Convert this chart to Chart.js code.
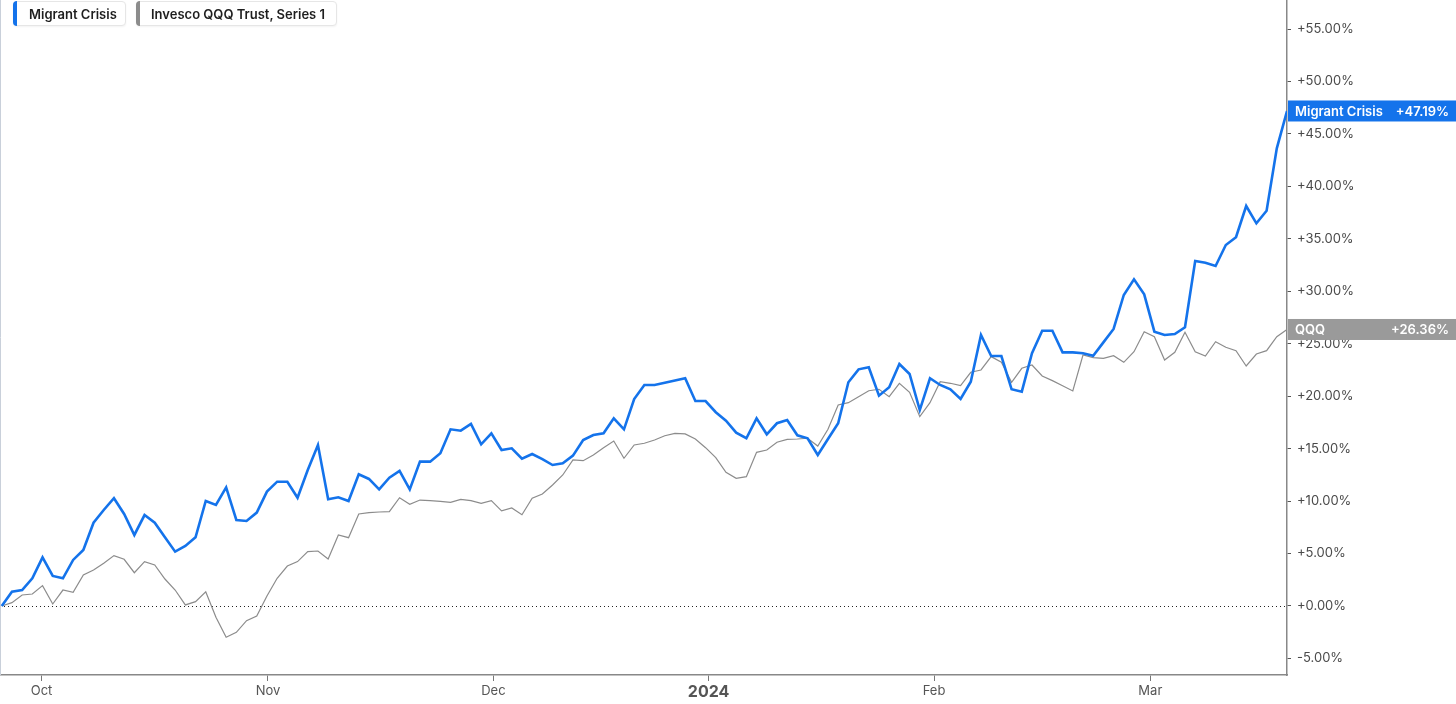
<!DOCTYPE html>
<html>
<head>
<meta charset="utf-8">
<title>Migrant Crisis vs QQQ</title>
<script src="https://cdn.jsdelivr.net/npm/chart.js@4.4.1/dist/chart.umd.min.js"></script>
<style>
  html, body { margin: 0; padding: 0; background: #fff; }
  #wrap { position: relative; width: 1456px; height: 704px; }
  .legend-item {
    position: absolute; top: 1px; height: 25px; box-sizing: border-box;
    border: 1px solid #e6e6e6; border-radius: 4px; background: #fff;
    font: 600 13px Inter, "Noto Sans", sans-serif; color: #1e1e1e;
    line-height: 25px; box-shadow: 0 1px 2px rgba(0,0,0,0.05);
  }
  .legend-item .bar {
    position: absolute; left: -1px; top: -1px; bottom: -1px; width: 4px;
    border-radius: 4px 0 0 4px;
  }
</style>
</head>
<body>
<div id="wrap">
  <canvas id="chart" width="1456" height="704"></canvas>
  <div class="legend-item" style="left:13px;width:113px;padding-left:15px;">
    <span class="bar" style="background:#1473eb"></span>Migrant Crisis
  </div>
  <div class="legend-item" style="left:136px;width:201px;padding-left:14px;">
    <span class="bar" style="background:#8c8c8c"></span>Invesco QQQ Trust, Series 1
  </div>
</div>
<script>
// % change since start, one value per trading day
const migrantCrisis = [
  0, 1.36, 1.52, 2.64, 4.64, 2.86, 2.64, 4.39, 5.34, 7.94,
  9.15, 10.27, 8.77, 6.77, 8.67, 7.94, 6.55, 5.18, 5.72, 6.55,
  10.01, 9.63, 11.31, 8.20, 8.10, 8.90, 10.90, 11.85, 11.85, 10.32,
  12.96, 15.35, 10.17, 10.36, 10.01, 12.55, 12.11, 11.12, 12.23, 12.87,
  11.12, 13.76, 13.76, 14.56, 16.84, 16.71, 17.35, 15.41, 16.46, 14.87,
  15.03, 14.04, 14.49, 14.01, 13.44, 13.60, 14.33, 15.82, 16.30, 16.46,
  17.89, 16.84, 19.73, 21.07, 21.07, 21.28, 21.50, 21.71, 19.54, 19.54,
  18.47, 17.67, 16.52, 15.99, 17.89, 16.37, 17.42, 17.73, 16.27, 15.99,
  14.39, 15.92, 17.42, 21.33, 22.56, 22.75, 20.05, 20.85, 23.07, 22.12,
  18.68, 21.71, 21.07, 20.66, 19.73, 21.38, 25.83, 23.83, 23.83, 20.66,
  20.43, 24.09, 26.24, 26.24, 24.18, 24.18, 24.09, 23.86, 25.13, 26.41,
  29.65, 31.14, 29.71, 26.15, 25.83, 25.93, 26.57, 32.89, 32.73, 32.41,
  34.41, 35.15, 38.13, 36.48, 37.68, 43.63, 47.19
];

const qqq = [
  0, 0.32, 1.05, 1.14, 1.94, 0.19, 1.52, 1.30, 2.96, 3.43,
  4.07, 4.80, 4.45, 3.17, 4.23, 3.91, 2.57, 1.52, 0.10, 0.41,
  1.36, -1.08, -2.98, -2.51, -1.40, -0.95, 0.95, 2.64, 3.81, 4.23,
  5.18, 5.24, 4.48, 6.77, 6.51, 8.77, 8.90, 8.96, 8.99, 10.32,
  9.69, 10.10, 10.04, 9.98, 9.88, 10.17, 10.04, 9.79, 10.04, 9.06,
  9.34, 8.70, 10.27, 10.68, 11.53, 12.49, 13.92, 13.85, 14.39, 15.09,
  15.73, 14.08, 15.35, 15.51, 15.82, 16.23, 16.46, 16.40, 15.92, 15.09,
  14.14, 12.75, 12.17, 12.33, 14.65, 14.87, 15.61, 15.89, 15.92, 15.99,
  15.25, 16.84, 19.16, 19.38, 19.95, 20.52, 20.66, 19.95, 21.23, 20.37,
  18.05, 19.38, 21.38, 21.23, 21.00, 22.28, 22.50, 23.77, 23.23, 21.33,
  22.66, 22.97, 21.93, 21.48, 21.00, 20.50, 23.93, 23.67, 23.61, 23.86,
  23.23, 24.24, 26.15, 25.67, 23.45, 24.18, 26.09, 24.24, 23.83, 25.19,
  24.66, 24.34, 22.88, 24.02, 24.34, 25.67, 26.36
];

const seriesNames = ["Migrant Crisis", "Invesco QQQ Trust, Series 1"];
const tagNames = ["Migrant Crisis", "QQQ"];
const seriesColors = ["#1473eb", "#8c8c8c"];
const tagColors = ["#1473eb", "#9a9a9a"];

// month ticks sit at these (fractional) trading-day positions
const xTickPos = [3.9, 26.1, 48.2, 69.3, 91.4, 112.6];
const xTickLabels = ["Oct", "Nov", "Dec", "2024", "Feb", "Mar"];
const yTicks = [-5, 0, 5, 10, 15, 20, 25, 30, 35, 40, 45, 50, 55];

const FONT = 'Inter, "Noto Sans", sans-serif';

function pct(v) {
  return (v >= 0 ? "+" : "") + v.toFixed(2) + "%";
}

function toPoints(arr) {
  return arr.map((v, i) => ({ x: i, y: v }));
}

// dotted zero line + last-value tags on the right axis
const overlays = {
  id: "overlays",
  beforeDatasetsDraw(chart) {
    const { ctx, chartArea, scales } = chart;
    const y0 = Math.round(scales.y.getPixelForValue(0)) + 0.5;
    ctx.save();
    ctx.strokeStyle = "#222";
    ctx.lineWidth = 1;
    ctx.setLineDash([1, 3]);
    ctx.beginPath();
    ctx.moveTo(chartArea.left, y0);
    ctx.lineTo(chartArea.right, y0);
    ctx.stroke();
    ctx.setLineDash([]);
    // faint left frame
    ctx.strokeStyle = "#c9d0da";
    ctx.beginPath();
    ctx.moveTo(0.5, 0);
    ctx.lineTo(0.5, chartArea.bottom);
    ctx.stroke();
    ctx.restore();
  },
  afterDraw(chart) {
    const { ctx, chartArea, scales } = chart;
    ctx.save();
    chart.data.datasets.forEach((ds, i) => {
      const last = ds.data[ds.data.length - 1].y;
      const y = scales.y.getPixelForValue(last);
      ctx.fillStyle = tagColors[i];
      ctx.fillRect(chartArea.right + 1, y - 10.5, chart.width - chartArea.right, 21);
      ctx.fillStyle = "#fff";
      ctx.font = "600 13px " + FONT;
      ctx.textBaseline = "middle";
      ctx.textAlign = "left";
      ctx.fillText(tagNames[i], chartArea.right + 8, y + 1);
      ctx.textAlign = "right";
      ctx.fillText(pct(last), chart.width - 7, y + 1);
    });
    ctx.restore();
  }
};

new Chart(document.getElementById("chart"), {
  type: "line",
  data: {
    datasets: [
      {
        label: seriesNames[0],
        data: toPoints(migrantCrisis),
        borderColor: seriesColors[0],
        borderWidth: 2.6,
        pointRadius: 0,
        tension: 0
      },
      {
        label: seriesNames[1],
        data: toPoints(qqq),
        borderColor: seriesColors[1],
        borderWidth: 1.2,
        pointRadius: 0,
        tension: 0
      }
    ]
  },
  options: {
    responsive: false,
    devicePixelRatio: 1,
    animation: false,
    layout: { padding: 0 },
    plugins: {
      legend: { display: false },
      tooltip: { enabled: false }
    },
    scales: {
      x: {
        type: "linear",
        min: -0.17,
        max: migrantCrisis.length - 1,
        afterFit(scale) {
          scale.height = 29;
          scale.paddingLeft = 0;
          scale.paddingRight = 0;
        },
        afterBuildTicks(scale) {
          scale.ticks = xTickPos.map((v) => ({ value: v }));
        },
        grid: { drawOnChartArea: false, tickLength: 6, color: "#777" },
        border: { color: "#888", width: 1.5 },
        ticks: {
          autoSkip: false,
          maxRotation: 0,
          padding: 2,
          color: "#555",
          font: (c) => c.tick && xTickLabels[c.index] === "2024"
            ? { family: FONT, size: 16, weight: "bold" }
            : { family: FONT, size: 13 },
          callback: (v, i) => xTickLabels[i]
        }
      },
      y: {
        position: "right",
        min: -6.58,
        max: 57.77,
        afterFit(scale) {
          scale.width = 169;
          scale.paddingTop = 0;
          scale.paddingBottom = 0;
        },
        afterBuildTicks(scale) {
          scale.ticks = yTicks.map((v) => ({ value: v }));
        },
        grid: { drawOnChartArea: false, tickLength: 4, color: "#555" },
        border: { color: "#888", width: 1.5 },
        ticks: {
          padding: 6,
          color: "#4a4a4a",
          font: { family: FONT, size: 13 },
          callback: (v) => pct(v)
        }
      }
    }
  },
  plugins: [overlays]
});
</script>
</body>
</html>
